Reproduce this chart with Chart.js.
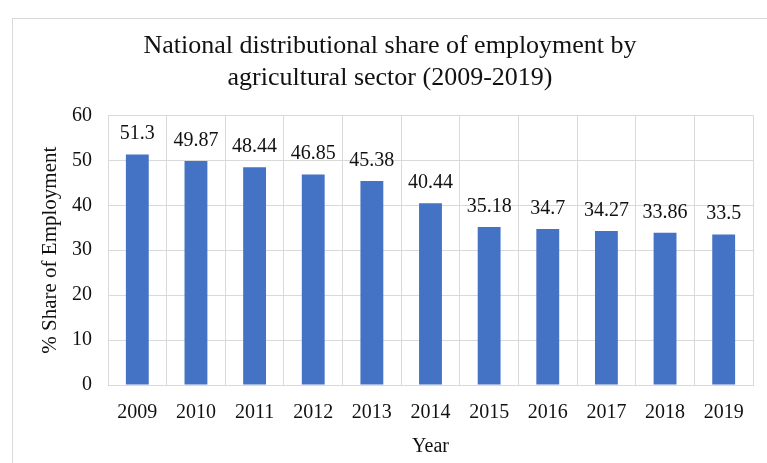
<!DOCTYPE html>
<html>
<head>
<meta charset="utf-8">
<script src="https://cdn.jsdelivr.net/npm/chart.js@4"></script>
<style>
  html, body { margin: 0; padding: 0; background: #fff; }
  #frame {
    position: absolute; left: 12px; top: 18px; width: 770px; height: 460px;
    border: 1px solid #d9d9d9; box-sizing: border-box;
  }
  #wrap { position: absolute; left: 0; top: 0; width: 767px; height: 463px; }
</style>
</head>
<body>
<div id="frame"></div>
<div id="wrap"><canvas id="agriChart"></canvas></div>
<script>
// Data
const years = ["2009", "2010", "2011", "2012", "2013", "2014", "2015", "2016", "2017", "2018", "2019"];
const shares = [51.3, 49.87, 48.44, 46.85, 45.38, 40.44, 35.18, 34.7, 34.27, 33.86, 33.5];
const yTicks = [0, 10, 20, 30, 40, 50, 60];

const serif = "'Liberation Serif', 'Times New Roman', serif";
const ink = "#111";

// Simple value labels above each bar (no datalabels plugin available)
const barLabels = {
  id: "barLabels",
  afterDatasetsDraw(chart) {
    const ctx = chart.ctx;
    const meta = chart.getDatasetMeta(0);
    ctx.save();
    ctx.font = "20px " + serif;
    ctx.fillStyle = ink;
    ctx.textAlign = "center";
    ctx.textBaseline = "alphabetic";
    meta.data.forEach(function (bar, i) {
      ctx.fillText(String(shares[i]), bar.x, bar.y - 15);
    });
    ctx.restore();
  }
};

const ctx = document.getElementById("agriChart").getContext("2d");
const chart = new Chart(ctx, {
  type: "bar",
  data: {
    labels: years,
    datasets: [{
      data: shares,
      backgroundColor: "#4472c4",
      categoryPercentage: 1,
      barPercentage: 0.39
    }]
  },
  options: {
    responsive: true,
    maintainAspectRatio: false,
    animation: false,
    layout: { padding: { left: 27, right: 14, top: 0, bottom: 4 } },
    plugins: {
      legend: { display: false },
      tooltip: { enabled: false },
      title: {
        display: true,
        text: ["National distributional share of employment by", "agricultural sector (2009-2019)"],
        font: { family: serif, size: 26, weight: "normal", lineHeight: 1.2 },
        color: ink,
        padding: { top: 31, bottom: 22 }
      }
    },
    scales: {
      x: {
        grid: { color: "#d9d9d9", drawTicks: false, offset: true },
        border: { color: "#d9d9d9" },
        ticks: { font: { family: serif, size: 20 }, color: ink, padding: 16 },
        title: {
          display: true, text: "Year",
          font: { family: serif, size: 20 }, color: ink,
          padding: { top: -6, bottom: 0 }
        }
      },
      y: {
        min: 0,
        max: 60,
        afterBuildTicks(scale) {
          scale.ticks = yTicks.map(function (v) { return { value: v }; });
        },
        afterFit(scale) { scale.width = 81; },
        grid: { color: "#d9d9d9", drawTicks: false },
        border: { color: "#d9d9d9" },
        ticks: { font: { family: serif, size: 20 }, color: ink, padding: 16 },
        title: {
          display: true, text: "% Share of Employment",
          font: { family: serif, size: 21 }, color: ink,
          padding: { top: 11, bottom: 0 }
        }
      }
    }
  },
  plugins: [barLabels]
});
</script>
</body>
</html>
